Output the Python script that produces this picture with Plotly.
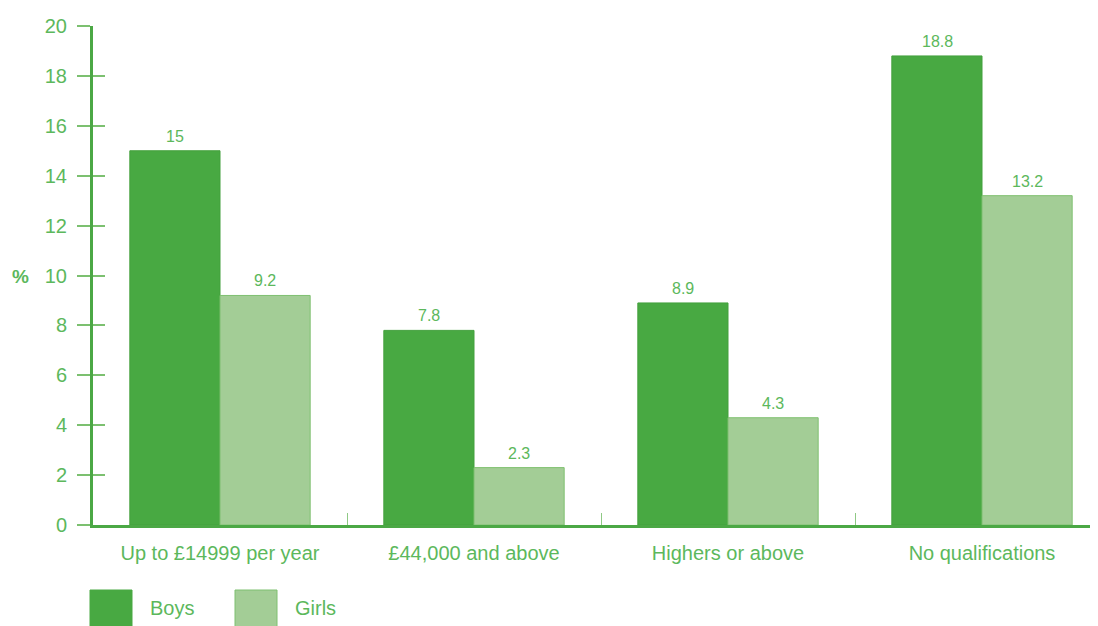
import plotly.graph_objects as go

categories = ["Up to £14999 per year", "£44,000 and above", "Highers or above", "No qualifications"]
boys = [15, 7.8, 8.9, 18.8]
girls = [9.2, 2.3, 4.3, 13.2]
y_ticks = [0, 2, 4, 6, 8, 10, 12, 14, 16, 18, 20]

BOYS_C = "#48a942"
GIRLS_C = "#a3cd96"
AXIS_C = "#4ba845"
TEXT_C = "#5cb85c"
FONT = "Liberation Sans, Arial, sans-serif"

# page body has an 8px margin; work in screen pixels
OFF = 8
W, H = 1101, 626
ml, mr, mt, mb = 85, 0, 18, 109
pw, ph = W - ml - mr, H - mt - mb


def px2paper(x, y):
    return (x - OFF - ml) / pw, (H - mb + OFF - y) / ph


fig = go.Figure()
fig.add_trace(go.Bar(x=categories, y=boys, name="Boys",
                     marker=dict(color=BOYS_C, line=dict(color="#43a03d", width=1)), showlegend=False))
fig.add_trace(go.Bar(x=categories, y=girls, name="Girls",
                     marker=dict(color=GIRLS_C, line=dict(color="#7fc070", width=1)), showlegend=False))
fig.add_trace(go.Scatter(x=[categories[0]], y=[0], yaxis="y2", mode="markers",
                         marker=dict(opacity=0), showlegend=False, hoverinfo="skip"))

annotations = []
for i, c in enumerate(categories):
    for val, shift in ((boys[i], -45), (girls[i], 45)):
        annotations.append(dict(x=c, y=val, xref="x", yref="y", text=f"{val:g}", showarrow=False,
                                xshift=shift, yanchor="bottom", yshift=4,
                                font=dict(size=16, color=TEXT_C, family=FONT)))

ax, ay = px2paper(20, 276)
annotations.append(dict(x=ax, y=ay, xref="paper", yref="paper", text="<b>%</b>", showarrow=False,
                        xanchor="center", yanchor="middle",
                        font=dict(size=19, color=TEXT_C, family=FONT)))

shapes = []
for (x0, label, col, lc, lx) in ((90, "Boys", BOYS_C, BOYS_C, 148), (235, "Girls", GIRLS_C, "#7fc070", 293)):
    a0, b0 = px2paper(x0, 590)
    a1, b1 = px2paper(x0 + 42, 630)
    shapes.append(dict(type="rect", xref="paper", yref="paper", x0=a0, x1=a1, y0=b1, y1=b0,
                       fillcolor=col, line=dict(color=lc, width=1)))
    tx, ty = px2paper(lx, 608)
    annotations.append(dict(x=tx, y=ty, xref="paper", yref="paper", text=label, showarrow=False,
                            xanchor="left", yanchor="middle", font=dict(size=20, color=TEXT_C, family=FONT)))

fig.update_layout(
    width=W, height=H,
    margin=dict(l=ml, r=mr, t=mt, b=mb),
    paper_bgcolor="white", plot_bgcolor="white",
    barmode="group", bargap=0.29, bargroupgap=0,
    font=dict(family=FONT, color=TEXT_C, size=18),
    xaxis=dict(range=[-0.5, 3.5], showgrid=False, showline=True, linecolor=AXIS_C, linewidth=3,
               ticks="inside", tickson="boundaries", ticklen=12, tickcolor="#8fc985", tickwidth=1,
               tickfont=dict(size=20, color=TEXT_C), ticklabelstandoff=8, zeroline=False),
    yaxis=dict(range=[0, 20], tickvals=y_ticks, showgrid=False, showline=True, linecolor=AXIS_C, linewidth=3,
               ticks="outside", ticklen=13, tickcolor="#7cc070", tickwidth=1.5,
               tickfont=dict(size=20, color=TEXT_C), ticklabelstandoff=6, zeroline=False),
    yaxis2=dict(range=[0, 20], tickvals=y_ticks, overlaying="y", side="left", showgrid=False, showline=False,
                ticks="inside", ticklen=12, tickcolor="#7cc070", tickwidth=1.5, showticklabels=False,
                zeroline=False),
    annotations=annotations, shapes=shapes,
)

fig.write_html("out.html")
